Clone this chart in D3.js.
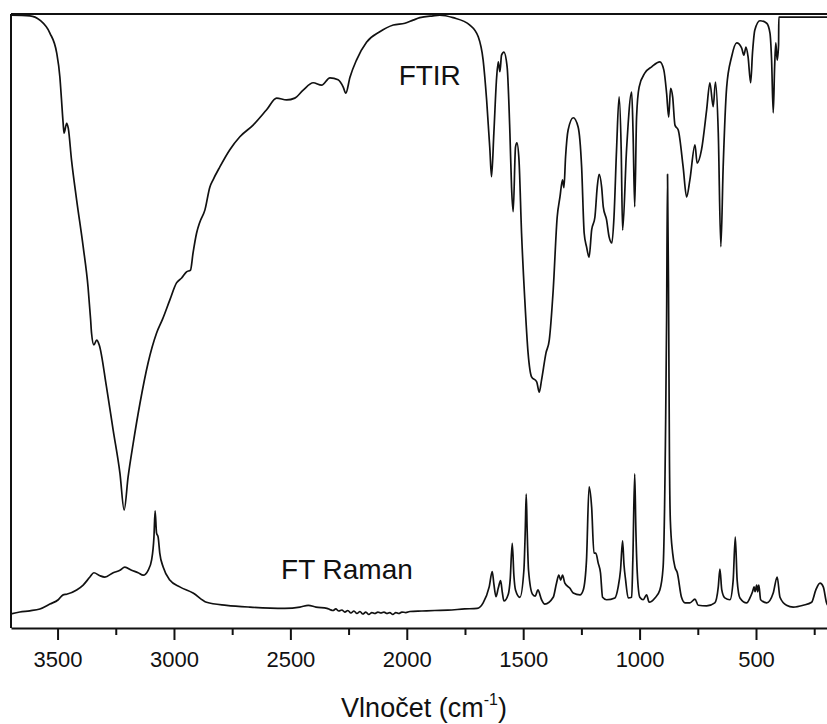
<!DOCTYPE html>
<html><head><meta charset="utf-8">
<script src="https://cdn.jsdelivr.net/npm/d3@7"></script>
<style>body{margin:0;background:#fff}svg{display:block}</style>
</head><body><svg id="c" width="827" height="724"></svg>
<script>
// FTIR: [wavenumber cm-1, transmittance %]
const ftir = [[3700,99.8],[3619,99.7],[3576,99.0],[3533,96.9],[3504,93.7],[3490,89.7],[3483,86.0],[3476,82.2],[3472,80.6],[3461,82.2],[3454,81.4],[3440,76.2],[3418,69.7],[3390,62.1],[3369,55.5],[3358,50.2],[3354,48.0],[3344,46.1],[3332,46.9],[3321,46.1],[3290,39.3],[3261,32.2],[3232,25.2],[3214,19.2],[3197,24.6],[3175,30.1],[3146,36.6],[3111,43.2],[3075,48.0],[3049,50.3],[3018,53.4],[2989,56.2],[2967,57.0],[2946,58.0],[2929,58.3],[2918,61.1],[2903,64.3],[2889,66.1],[2867,68.1],[2846,71.8],[2832,73.0],[2803,75.1],[2760,77.9],[2717,80.0],[2660,81.9],[2602,84.4],[2559,86.3],[2516,86.0],[2481,86.3],[2445,87.6],[2402,88.8],[2366,88.4],[2330,89.6],[2295,89.3],[2273,88.1],[2262,87.1],[2244,89.7],[2216,92.5],[2173,95.4],[2116,97.1],[2058,98.2],[2008,98.5],[1973,99.0],[1944,99.4],[1887,99.7],[1858,99.8],[1801,99.4],[1729,98.2],[1693,96.3],[1672,92.5],[1657,86.0],[1643,77.9],[1636,73.5],[1626,80.6],[1614,89.7],[1607,92.2],[1600,90.6],[1593,93.3],[1583,93.8],[1569,91.4],[1557,80.6],[1550,71.8],[1543,67.8],[1533,78.3],[1527,79.0],[1518,76.2],[1507,64.3],[1493,53.4],[1479,44.8],[1464,40.9],[1442,40.1],[1431,38.4],[1421,40.4],[1402,44.8],[1388,46.9],[1371,55.1],[1354,66.9],[1342,70.2],[1331,73.0],[1325,71.7],[1318,76.7],[1307,81.1],[1285,83.1],[1264,81.6],[1249,75.1],[1238,64.3],[1228,62.1],[1217,60.4],[1206,64.8],[1192,66.9],[1182,71.8],[1174,73.9],[1163,71.8],[1156,68.6],[1142,66.5],[1131,63.7],[1119,62.7],[1110,66.9],[1099,77.9],[1088,86.5],[1079,77.9],[1073,64.8],[1056,77.9],[1034,87.3],[1028,80.6],[1021,68.6],[1013,83.2],[1002,88.1],[977,90.4],[948,91.4],[913,92.2],[896,90.9],[884,87.1],[875,83.2],[867,87.9],[858,86.5],[848,81.9],[834,81.1],[813,75.1],[798,70.2],[784,73.0],[762,78.7],[753,75.7],[734,77.9],[712,84.4],[698,88.8],[684,84.9],[674,88.9],[662,80.6],[651,62.1],[641,75.1],[626,88.1],[605,93.0],[583,95.3],[562,94.5],[552,93.3],[543,94.6],[534,93.0],[523,88.8],[515,93.7],[505,97.4],[483,98.9],[454,98.5],[440,96.9],[433,92.5],[426,83.9],[420,91.4],[415,95.3],[409,92.5],[403,95.0],[402,99.5],[180,99.5]];

// FT Raman: [wavenumber cm-1, intensity a.u.]
const raman = [[3700,2.3],[3662,2.6],[3619,2.8],[3576,3.1],[3533,3.9],[3497,4.6],[3476,5.4],[3461,5.5],[3418,6.2],[3390,7.0],[3361,8.3],[3344,9.0],[3318,8.5],[3297,8.3],[3261,9.0],[3232,9.4],[3211,9.9],[3182,9.4],[3154,9.0],[3132,8.6],[3111,9.4],[3096,11.1],[3086,14.8],[3081,19.1],[3075,15.5],[3068,14.8],[3061,12.2],[3046,9.9],[3018,7.8],[2975,6.7],[2918,5.7],[2860,4.2],[2774,3.7],[2674,3.4],[2524,3.2],[2459,3.4],[2423,3.7],[2390,3.4],[2343,3.2],[2330,3.0],[2317,2.85],[2305,3.1],[2292,2.77],[2279,2.93],[2266,2.6],[2253,2.85],[2240,2.44],[2227,2.77],[2214,2.36],[2201,2.69],[2189,2.28],[2176,2.6],[2163,2.2],[2150,2.52],[2137,2.36],[2124,2.6],[2111,2.44],[2098,2.6],[2085,2.36],[2073,2.52],[2060,2.2],[2047,2.52],[2034,2.36],[2021,2.6],[2004,2.52],[1987,2.69],[1935,2.77],[1880,2.85],[1824,2.9],[1751,3.1],[1698,3.2],[1672,4.1],[1646,6.7],[1633,9.2],[1626,7.2],[1617,5.1],[1607,6.5],[1597,7.7],[1590,5.9],[1583,4.4],[1564,5.5],[1556,7.8],[1547,13.8],[1540,8.6],[1533,6.2],[1514,5.0],[1497,9.4],[1491,16.0],[1487,21.8],[1483,16.0],[1477,9.4],[1460,5.5],[1448,5.2],[1437,6.2],[1421,4.6],[1407,3.9],[1371,5.0],[1357,7.3],[1347,8.6],[1339,7.8],[1331,8.6],[1321,7.3],[1300,6.5],[1285,5.7],[1256,5.4],[1242,6.2],[1228,11.1],[1217,23.0],[1206,19.7],[1196,12.2],[1188,12.2],[1178,10.6],[1168,9.0],[1159,5.0],[1142,4.6],[1106,4.9],[1092,6.7],[1082,9.4],[1073,14.2],[1067,10.3],[1060,7.8],[1049,4.9],[1034,5.0],[1029,11.1],[1021,25.1],[1016,16.0],[1010,9.0],[999,5.0],[985,4.6],[970,5.4],[959,4.2],[934,4.9],[913,6.2],[899,9.9],[888,33.9],[884,50.2],[880,73.9],[875,50.2],[872,29.0],[868,17.6],[858,12.2],[848,9.9],[838,9.0],[820,5.0],[805,4.1],[784,4.1],[762,4.7],[748,3.7],[712,3.6],[677,4.1],[662,6.7],[655,9.6],[647,6.2],[634,4.9],[612,4.6],[598,7.8],[589,14.8],[581,7.8],[569,4.9],[540,4.1],[526,4.9],[515,5.9],[508,6.7],[504,5.9],[497,7.0],[493,5.9],[488,7.0],[480,4.6],[454,4.1],[426,5.7],[409,8.3],[397,5.0],[369,3.7],[340,3.4],[297,3.7],[261,4.2],[243,6.2],[225,7.3],[211,6.7],[197,4.1],[183,3.3]];

const majorTicks = [3500,3000,2500,2000,1500,1000,500];
const minorTicks = [3250,2750,2250,1750,1250,750,250];
const xDomain = [3700, 180];
const yDomain = [0, 100];
const seriesLabels = ["FTIR", "FT Raman"];
const labelPos = [[2035, 88.5], [2540, 8]];
const xTitle = ["Vlnočet (cm", "-1", ")"];

const FONT = "'Liberation Sans', Arial, Helvetica, sans-serif";
const svg = d3.select("#c");
const L = 11, R = 830.5, T = 14, B = 628;
const x = d3.scaleLinear().domain(xDomain).range([L, R]);
const y = d3.scaleLinear().domain(yDomain).range([B, T]);

svg.append("defs").append("clipPath").attr("id","clip")
  .append("rect").attr("x", L).attr("y", T-2).attr("width", R-L).attr("height", B-T+2);

const line = d3.line().x(d => x(d[0])).y(d => y(d[1])).curve(d3.curveMonotoneX);
const g = svg.append("g").attr("clip-path","url(#clip)");
[ftir, raman].forEach(s => {
  g.append("path").datum(s).attr("d", line)
   .attr("fill","none").attr("stroke","#111").attr("stroke-width",1.7)
   .attr("stroke-linejoin","round");
});

// frame (top and left)
svg.append("line").attr("x1", L).attr("x2", 827).attr("y1", T).attr("y2", T)
  .attr("stroke","#111").attr("stroke-width",2);
svg.append("line").attr("x1", L).attr("x2", L).attr("y1", T).attr("y2", B)
  .attr("stroke","#111").attr("stroke-width",2);

// minor ticks
const minorAxis = d3.axisBottom(x).tickValues(minorTicks).tickSize(7).tickSizeOuter(0).tickFormat("");
const gm = svg.append("g").attr("transform",`translate(0,${B})`).call(minorAxis);
gm.select(".domain").remove();
gm.selectAll(".tick line").attr("stroke","#111").attr("stroke-width",2);

// major axis
const majorAxis = d3.axisBottom(x).tickValues(majorTicks).tickSize(12).tickSizeOuter(0)
  .tickPadding(11).tickFormat(d3.format("d"));
const ga = svg.append("g").attr("transform",`translate(0,${B})`).call(majorAxis);
ga.select(".domain").attr("stroke","#111").attr("stroke-width",2);
ga.selectAll(".tick line").attr("stroke","#111").attr("stroke-width",2);
ga.selectAll(".tick text").attr("font-family", FONT).attr("font-size", 22).attr("fill","#111");

// series labels
seriesLabels.forEach((t, i) => {
  svg.append("text").attr("x", x(labelPos[i][0])).attr("y", y(labelPos[i][1]))
    .attr("font-family", FONT).attr("font-size", 28).attr("fill","#111").text(t);
});

// x title
const tt = svg.append("text").attr("x", 424).attr("y", 717).attr("text-anchor","middle")
  .attr("font-family", FONT).attr("font-size", 27).attr("fill","#111");
tt.append("tspan").text(xTitle[0]);
tt.append("tspan").attr("font-size", 16).attr("dy", -12).text(xTitle[1]);
tt.append("tspan").attr("dy", 12).text(xTitle[2]);
</script></body></html>
